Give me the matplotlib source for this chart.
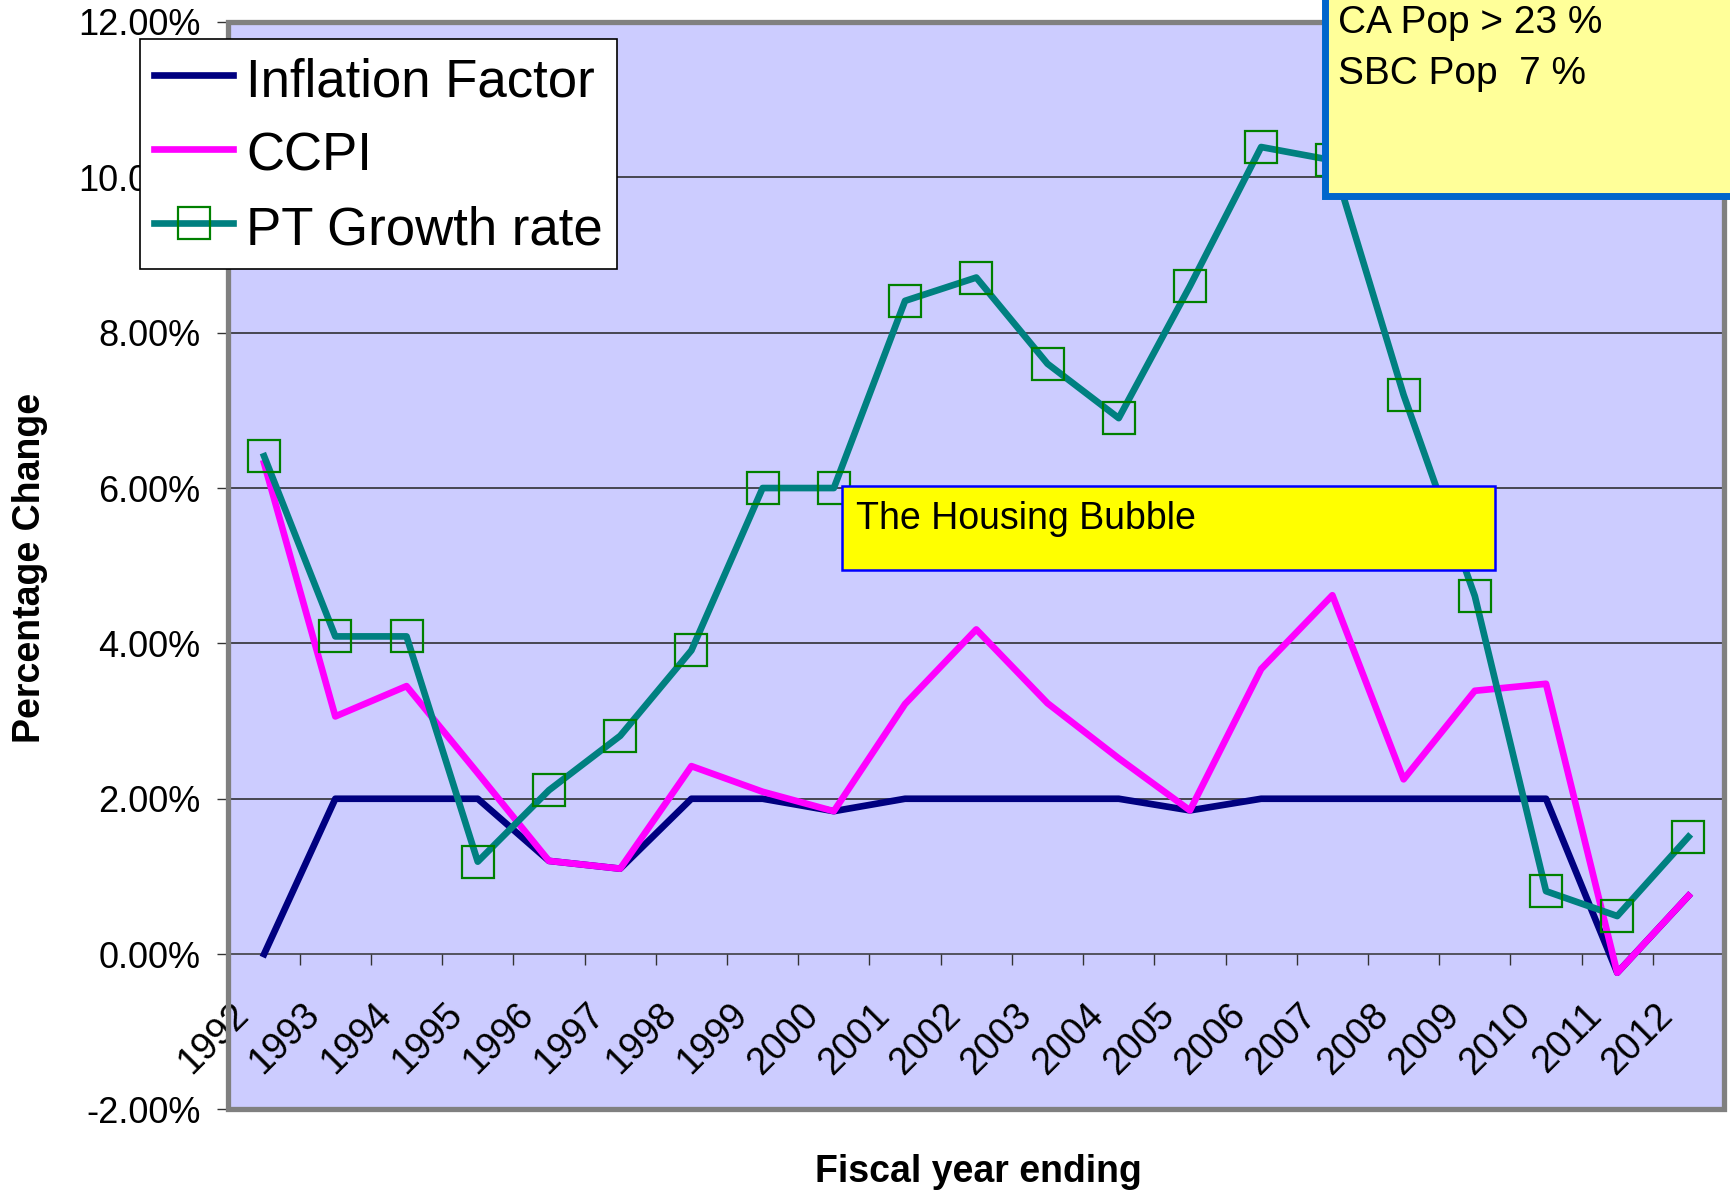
import matplotlib.pyplot as plt
from matplotlib.patches import Rectangle
from matplotlib.ticker import FuncFormatter, FixedLocator, NullFormatter
from matplotlib.transforms import ScaledTranslation

plt.rcParams['font.family'] = ['Liberation Sans', 'DejaVu Sans']

years = [str(y) for y in range(1992, 2013)]
inflation_factor = [0.0, 2.0, 2.0, 2.0, 1.2, 1.1, 2.0, 2.0, 1.84, 2.0, 2.0,
                    2.0, 2.0, 1.85, 2.0, 2.0, 2.0, 2.0, 2.0, -0.24, 0.75]
ccpi = [6.32, 3.06, 3.45, 2.33, 1.2, 1.1, 2.42, 2.09, 1.84, 3.22, 4.18,
        3.23, 2.52, 1.85, 3.67, 4.62, 2.25, 3.39, 3.48, -0.24, 0.75]
pt_growth = [6.41, 4.09, 4.09, 1.19, 2.11, 2.81, 3.91, 6.0, 6.0, 8.41, 8.71,
             7.6, 6.9, 8.6, 10.39, 10.22, 7.2, 4.61, 0.81, 0.49, 1.51]
series_names = ['Inflation Factor', 'CCPI', 'PT Growth rate']
y_ticks = [-2, 0, 2, 4, 6, 8, 10, 12]

fig = plt.figure(figsize=(17.31, 11.94), dpi=100)
ax = fig.add_axes([0.132, 0.0708, 0.864, 0.9108])
ax.set_facecolor('#CCCCFF')

x = list(range(len(years)))
ax.plot(x, inflation_factor, color='#000080', lw=4.8, label=series_names[0], zorder=3)
ax.plot(x, ccpi, color='#FF00FF', lw=4.8, label=series_names[1], zorder=4)
ax.plot(x, pt_growth, color='#008080', lw=4.8, marker='s', markersize=23.5,
        markerfacecolor='none', markeredgecolor='#008000', markeredgewidth=1.6,
        label=series_names[2], zorder=5)

ax.set_xlim(-0.5, len(years) - 0.5)
ax.set_ylim(-2, 12)

# horizontal gridlines
for v in y_ticks[2:-1]:
    ax.axhline(v, color='#222222', lw=1.1, zorder=1)

# category axis crossing at zero
for side in ['left', 'right', 'top']:
    ax.spines[side].set_visible(False)
ax.spines['bottom'].set_position(('data', 0))
ax.spines['bottom'].set_color('#333333')
ax.spines['bottom'].set_linewidth(1.1)
ax.xaxis.set_major_locator(FixedLocator([i - 0.5 for i in range(len(years) + 1)]))
ax.xaxis.set_major_formatter(NullFormatter())
ax.tick_params(axis='x', which='major', direction='out', length=8, width=1, color='#333333')

# rotated year labels sitting under the zero line
label_offset = ax.transData + ScaledTranslation(-10 / 72, -45 / 72, fig.dpi_scale_trans)
for xi, yr in zip(x, years):
    ax.text(xi, 0, yr, transform=label_offset, rotation=45, rotation_mode='anchor',
            ha='right', va='baseline', fontsize=27, zorder=6)

ax.set_yticks(y_ticks)
ax.yaxis.set_major_formatter(FuncFormatter(lambda v, p: '%.2f%%' % v))
ax.tick_params(axis='y', direction='out', length=8, width=1, color='#333333',
               labelsize=26, pad=12)

# plot area frame
ax.add_patch(Rectangle((0, 0), 1, 1, transform=ax.transAxes, fill=False,
                       edgecolor='#808080', lw=3.8, clip_on=False, zorder=6))

leg = ax.legend(loc='upper left', bbox_to_anchor=(0.081, 0.967),
                bbox_transform=fig.transFigure, fontsize=38, frameon=True,
                fancybox=False, edgecolor='black', framealpha=1,
                handlelength=1.5, handleheight=1.13, handletextpad=0.25,
                borderpad=0.26, labelspacing=0.36, borderaxespad=0)
leg.get_frame().set_linewidth(1.2)
leg.set_zorder(10)

# housing bubble note
ax.add_patch(Rectangle((0.4105, 0.4964), 0.4362, 0.0771, transform=ax.transAxes,
                       facecolor='#FFFF00', edgecolor='#0000FF', lw=1.8, zorder=8))
ax.text(0.4195, 0.5595, 'The Housing Bubble', transform=ax.transAxes,
        fontsize=27, va='top', ha='left', zorder=9)

# population note, top right
fig.patches.append(Rectangle((0.7657, 0.8355), 0.3, 0.2, transform=fig.transFigure,
                             facecolor='#FFFF99', edgecolor='#0066CC', lw=5,
                             zorder=20))
fig.text(0.773, 0.972, 'CA Pop > 23 %', fontsize=28, ha='left', va='baseline', zorder=21)
fig.text(0.773, 0.930, 'SBC Pop  7 %', fontsize=28, ha='left', va='baseline', zorder=21)

fig.text(0.0173, 0.524, 'Percentage Change', rotation=90, fontsize=27,
         fontweight='bold', ha='center', va='center')
fig.text(0.565, 0.0184, 'Fiscal year ending', fontsize=27, fontweight='bold',
         ha='center', va='center')

fig.savefig('out.png', dpi=100)
